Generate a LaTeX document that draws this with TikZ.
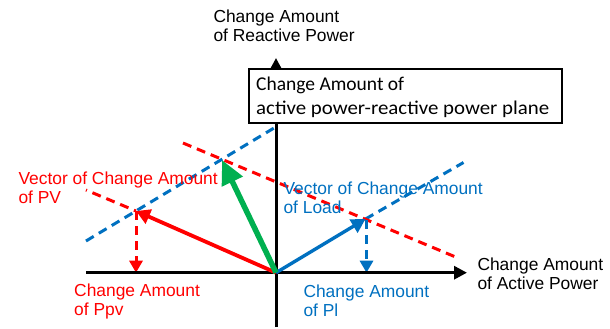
\documentclass[tikz,border=0pt]{standalone}
\usepackage{fontspec}
\setmainfont{Liberation Sans}
\newfontfamily\boxfont{Carlito}
\usetikzlibrary{arrows.meta}
\definecolor{cred}{HTML}{FF0000}
\definecolor{cblue}{HTML}{0070C0}
\definecolor{cgreen}{HTML}{00B050}
\begin{document}
\begin{tikzpicture}[x=1pt,y=-1pt,
  lbl/.style={inner sep=0pt,anchor=base west,align=left,font=\fontsize{17.4}{19}\selectfont},
  axis/.style={line width=3pt,-{Triangle[length=13pt,width=13pt]}},
  dline/.style={line width=3pt,dash pattern=on 9pt off 6pt},
  darrow/.style={line width=3pt,dash pattern=on 9pt off 6pt,-{Triangle[length=12pt,width=13pt]}},
  vec/.style={line width=3.8pt,-{Triangle[length=14pt,width=15pt]}}]
\useasboundingbox (0,0) rectangle (610,329);
% points
\coordinate (O) at (276,272.7);
\coordinate (PV) at (136,211);
\coordinate (LD) at (365.5,219);
\coordinate (GR) at (222,160);
\coordinate (xend) at (467,272.7);
\coordinate (xstart) at (86,272.7);
\coordinate (ytop) at (276,58);
\coordinate (ybot) at (276,327);
\coordinate (PVx) at (136,272.7);
\coordinate (LDx) at (366.5,272.7);
\coordinate (bl1) at (86,241);
\coordinate (bl2) at (274,128);
\coordinate (br2) at (463.5,162.5);
\coordinate (rl1) at (86,190);
\coordinate (ru1) at (183,143);
\coordinate (ru2) at (458,258);
% dashed guide lines
\draw[dline,cblue] (bl1) -- (bl2);
\draw[dline,cblue] (LD) -- (br2);
\draw[dline,cred,dash phase=8pt] (rl1) -- (PV);
\draw[dline,cred] (ru1) -- (ru2);
% projections
\draw[darrow,cred] (PV) -- (PVx);
\draw[darrow,cblue] (366.5,220) -- (LDx);
% axes
\draw[axis] (xstart) -- (xend);
\draw[axis] (ybot) -- (ytop);
% vectors
\draw[vec,cred] (O) -- (PV);
\draw[vec,cblue,line width=3.4pt] (O) -- (LD);
\draw[line width=5.5pt,cgreen,-{Triangle[length=24pt,width=22pt]}] (O) -- (GR);
% box
\node[draw,line width=1.5pt,fill=white,minimum width=313pt,minimum height=54pt,inner sep=0pt,anchor=north west] (box) at (248.3,68.3) {};
\node[inner sep=0pt,anchor=base west,align=left,font=\boxfont\fontsize{19.5}{24}\selectfont] (boxtxt) at (256,114) {Change Amount of\\\scalebox{1.07}[1]{active power-reactive power plane}};
% labels
\node[lbl] (ylab) at (213.3,41.7) {Change Amount\\of Reactive Power};
\node[lbl] (xlab) at (477.3,289) {Change Amount\\of Active Power};
\node[lbl,text=cred] (pvlab) at (18.3,203.3) {Vector of Change Amount\\of PV};
\node[lbl,text=cblue] (ldlab) at (283.3,213.3) {Vector of Change Amount\\of Load};
\node[lbl,text=cred] (ppvlab) at (74,315) {Change Amount\\of Ppv};
\node[lbl,text=cblue] (pllab) at (303.3,316.7) {Change Amount\\of Pl};
\end{tikzpicture}
\end{document}
